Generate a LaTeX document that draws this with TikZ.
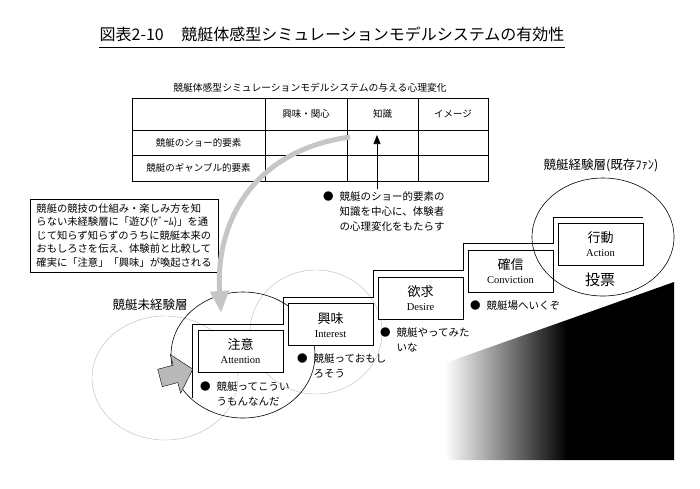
\documentclass[tikz,border=0pt]{standalone}
\usepackage{fontspec}
\setmainfont{Noto Sans CJK JP}
\newfontfamily\enfont{Liberation Serif}
\usetikzlibrary{arrows.meta}
\newcommand*{\kyoteiNote}[1]{\begin{tabular}[t]{@{}l@{\hspace{6pt}}l@{}}●&#1\end{tabular}}
\newcommand*{\stepText}[2]{#1\\[-1pt]{\enfont\fontsize{10.5}{15}\selectfont #2}}

\begin{document}
\begin{tikzpicture}[x=1pt,y=-1pt,
	stepbox/.style={draw,fill=white,line width=0.6pt,minimum width=85pt,minimum height=42pt,inner sep=0pt,align=center,font=\fontsize{13}{15}\selectfont},
	note/.style={anchor=base west,inner sep=0pt,font=\fontsize{10.5}{15}\selectfont},
	cell/.style={inner sep=0pt,font=\fontsize{9.5}{11}\selectfont},
	layer/.style={draw=gray!60,line width=0.35pt},
	ring/.style={draw,line width=0.6pt}]
	\useasboundingbox (0,0) rectangle (700,488);
	% title
	\node[inner sep=0pt,font=\fontsize{16}{18}\selectfont] (title) at (332,34) {図表2-10\hspace{1.1em}競艇体感型シミュレーションモデルシステムの有効性};
	\coordinate (uline) at (0,47);
	\draw[line width=0.8pt] (title.west |- uline) -- (title.east |- uline);
	% table
	\node[cell,font=\fontsize{9.8}{11}\selectfont] (tabCap) at (310,88) {競艇体感型シミュレーションモデルシステムの与える心理変化};
	\draw[line width=0.5pt] (132,98) rectangle (488,181)
		(132,130) -- (488,130) (132,155) -- (488,155)
		(265,98) -- (265,181) (347,98) -- (347,181) (418,98) -- (418,181);
	\node[cell] (hInt) at (306,114) {興味・関心};
	\node[cell] (hKnow) at (382.5,114) {知識};
	\node[cell] (hImg) at (453,114) {イメージ};
	\node[cell] (rShow) at (198.5,142.5) {競艇のショー的要素};
	\node[cell] (rGamble) at (198.5,168) {競艇のギャンブル的要素};
	\coordinate (knowTip) at (377,135);
	\coordinate (showCell) at (350,137);
	\coordinate (attTip) at (221,313);
	% gradient wedge
	\shade[left color=white,right color=black] (445,363) -- (567,320) -- (567,460) -- (445,460) -- cycle;
	\fill[black] (567,320) -- (674,282) -- (674,460) -- (567,460) -- cycle;
	% layers
	\draw[layer] (165,378) ellipse (73 and 62);
	\draw[layer] (316,332) ellipse (66 and 62);
	\draw[ring] (243,355) ellipse (72 and 63);
	\node[font=\fontsize{12.5}{14}\selectfont] (novice) at (150,305) {競艇未経験層};
	\node[font=\fontsize{12.5}{14}\selectfont] (fans) at (601,165) {競艇経験層(既存ﾌｧﾝ)};
	% intro box
	\node[draw,line width=0.6pt,align=left,inner sep=0pt,minimum width=188pt,minimum height=73pt,font=\fontsize{10.3}{13.5}\selectfont] (intro) at (124,235.5)
		{競艇の競技の仕組み・楽しみ方を知\\らない未経験層に「遊び(ｹﾞｰﾑ)」を通\\じて知らず知らずのうちに競艇本来の\\おもしろさを伝え、体験前と比較して\\確実に「注意」「興味」が喚起される};
	\draw[gray!45,line width=5pt,-{Triangle[width=18pt,length=22pt]}] (showCell) .. controls (255,150) and (215,220) .. (attTip);
	% steps
	\draw[line width=0.6pt] (192,398) -- (192,324) -- (283,324) -- (283,297.25) -- (373,297.25) -- (373,270.5)
		-- (463,270.5) -- (463,243.75) -- (553,243.75) -- (553,217) -- (643,217);
	\node[stepbox] (att) at (240.5,351.5) {\stepText{注意}{Attention}};
	\node[stepbox] (int) at (330.5,324.75) {\stepText{興味}{Interest}};
	\node[stepbox] (des) at (420.5,298) {\stepText{欲求}{Desire}};
	\node[stepbox] (con) at (510.5,271.25) {\stepText{確信}{Conviction}};
	\node[stepbox] (act) at (600.5,244.5) {\stepText{行動}{Action}};
	\draw[ring] (603,237) ellipse (71 and 59);
	\node[font=\fontsize{15}{17}\selectfont] (vote) at (600,280) {投票};
	\filldraw[fill=gray!55,draw=black,line width=0.4pt,shift={(160,378)},rotate=15]
		(0,-9) -- (16,-9) -- (16,-20) -- (34,0) -- (16,20) -- (16,9) -- (0,9) -- cycle;
	% notes
	\node[note] (attNote) at (200,390) {\kyoteiNote{競艇ってこうい\\&うもんなんだ}};
	\node[note] (intNote) at (297,362) {\kyoteiNote{競艇っておもし\\&ろそう}};
	\node[note] (desNote) at (380,336) {\kyoteiNote{競艇やってみた\\&いな}};
	\node[note] (conNote) at (470,309) {\kyoteiNote{競艇場へいくぞ}};
	\node[note] (knowNote) at (323,200) {\kyoteiNote{競艇のショー的要素の\\&知識を中心に、体験者\\&の心理変化をもたらす}};
	\draw[line width=0.6pt,-{Triangle[width=7pt,length=9pt]}] (knowNote.north -| knowTip) -- (knowTip);
\end{tikzpicture}
\end{document}
